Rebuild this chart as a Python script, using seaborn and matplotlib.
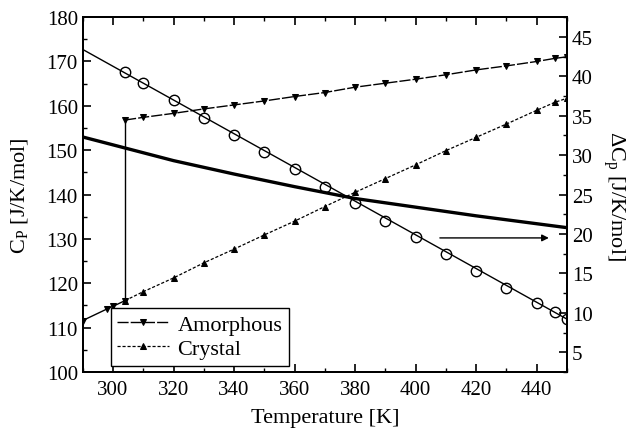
import matplotlib
matplotlib.use("Agg")
import matplotlib.pyplot as plt
from matplotlib.ticker import MultipleLocator
import seaborn as sns
import numpy as np

# ---------------- data ----------------
T_glass = [290, 298, 300, 304]
cp_glass = [111.6, 114.2, 114.8, 116.1]

T_pts = [304, 310, 320, 330, 340, 350, 360, 370, 380, 390, 400, 410, 420, 430, 440, 446, 450]
cp_amorph = [156.8, 157.4, 158.3, 159.3, 160.2, 161.1, 162.1, 163.0, 164.2, 165.1,
             166.0, 167.0, 168.1, 169.0, 170.0, 170.7, 171.05]
cp_cryst = [116.1, 118.1, 121.2, 124.6, 127.7, 130.9, 134.0, 137.3, 140.5, 143.6,
            146.7, 149.9, 152.9, 155.9, 159.0, 160.8, 161.7]
dcp_meas = [40.6, 39.2, 37.0, 34.7, 32.6, 30.4, 28.2, 26.0, 23.9, 21.7,
            19.6, 17.5, 15.3, 13.2, 11.2, 10.1, 9.2]

T_fit = [290, 450]
dcp_fit = [43.4, 9.2]

T_curve = [290, 300, 320, 340, 360, 380, 400, 420, 440, 450]
dcp_curve = [32.3, 31.3, 29.3, 27.6, 26.0, 24.5, 23.4, 22.3, 21.3, 20.8]

arrow_T = [408, 444]
arrow_dcp = 19.5

# ---------------- style ----------------
sns.set_theme(style="ticks")
plt.rcParams["font.family"] = ["Liberation Serif", "DejaVu Serif"]
plt.rcParams["mathtext.fontset"] = "custom"
plt.rcParams["mathtext.rm"] = "Liberation Serif"
plt.rcParams["mathtext.it"] = "Liberation Serif:italic"
plt.rcParams["font.size"] = 15
for key in ["text.color", "axes.labelcolor", "xtick.color", "ytick.color", "axes.edgecolor"]:
    plt.rcParams[key] = "black"

fig = plt.figure(figsize=(6.3, 4.31), dpi=100)
ax = fig.add_axes([0.1313, 0.1346, 0.7687, 0.8234])
ax2 = ax.twinx()

FS = 15
LFS = 16
k = "black"

# glass part + vertical jump (solid)
sns.lineplot(x=T_glass, y=cp_glass, ax=ax, color=k, lw=1.0, marker="v",
             markersize=5, mec=k, mfc=k, sort=False, estimator=None)
ax.plot([T_pts[0], T_pts[0]], [cp_cryst[0], cp_amorph[0]], color=k, lw=1.0)

# amorphous liquid (long dash)
sns.lineplot(x=T_pts, y=cp_amorph, ax=ax, color=k, lw=1.0, marker="v",
             markersize=5, mec=k, mfc=k, sort=False, estimator=None)
l_am = ax.lines[-1]
l_am.set_dashes([8, 1.5])

# crystal (short dash)
sns.lineplot(x=T_pts, y=cp_cryst, ax=ax, color=k, lw=0.9, marker="^",
             markersize=5, mec=k, mfc=k, sort=False, estimator=None)
l_cr = ax.lines[-1]
l_cr.set_dashes([2.5, 1.5])

# right axis: Delta Cp
sns.lineplot(x=T_fit, y=dcp_fit, ax=ax2, color=k, lw=1.0, sort=False, estimator=None)
sns.lineplot(x=T_pts, y=dcp_meas, ax=ax2, color=k, lw=0, marker="o",
             markersize=7.5, mec=k, mfc="none", mew=1.0, sort=False, estimator=None)
sns.lineplot(x=T_curve, y=dcp_curve, ax=ax2, color=k, lw=2.4, sort=False, estimator=None)

ax2.annotate("", xy=(arrow_T[1], arrow_dcp), xytext=(arrow_T[0], arrow_dcp),
             arrowprops=dict(arrowstyle="-|>", color=k, lw=1.0, mutation_scale=10,
                             shrinkA=0, shrinkB=0))

# axes limits / ticks
ax.set_xlim(290, 450)
ax.set_ylim(100, 180)
ax2.set_ylim(2.5, 47.5)

ax.xaxis.set_major_locator(MultipleLocator(20))
ax.xaxis.set_minor_locator(MultipleLocator(10))
ax.yaxis.set_major_locator(MultipleLocator(10))
ax.yaxis.set_minor_locator(MultipleLocator(5))
ax2.yaxis.set_major_locator(MultipleLocator(5))
ax2.yaxis.set_minor_locator(MultipleLocator(2.5))

ax.tick_params(axis="both", which="major", direction="in", length=5.5, width=1.2,
               labelsize=FS, top=True, right=False, colors=k)
ax.tick_params(axis="both", which="minor", direction="in", length=3, width=1.0,
               top=True, right=False)
ax.tick_params(axis="x", pad=6)
ax2.tick_params(axis="y", which="major", direction="in", length=5.5, width=1.2,
                labelsize=FS, left=False, right=True, colors=k)
ax2.tick_params(axis="y", which="minor", direction="in", length=3, width=1.0,
                left=False, right=True)

for a in (ax, ax2):
    for s in a.spines.values():
        s.set_linewidth(1.4)
        s.set_color(k)
        s.set_visible(True)

ax.set_xlabel("Temperature [K]", fontsize=LFS, labelpad=6)
ax.set_ylabel(r"C$_\mathrm{P}$ [J/K/mol]", fontsize=LFS, labelpad=12)
ax2.set_ylabel(r"$\Delta$C$_\mathrm{p}$ [J/K/mol]", fontsize=LFS, rotation=270, labelpad=24)

leg = ax.legend([l_am, l_cr], ["Amorphous", "Crystal"], loc="lower left",
                bbox_to_anchor=(0.058, 0.018), borderaxespad=0, fontsize=LFS,
                frameon=True, fancybox=False, framealpha=1, edgecolor=k,
                handlelength=2.3, handletextpad=0.4, labelspacing=0.15,
                borderpad=0.3)
leg.get_frame().set_linewidth(1.0)

fig.savefig("out.png", dpi=100)
